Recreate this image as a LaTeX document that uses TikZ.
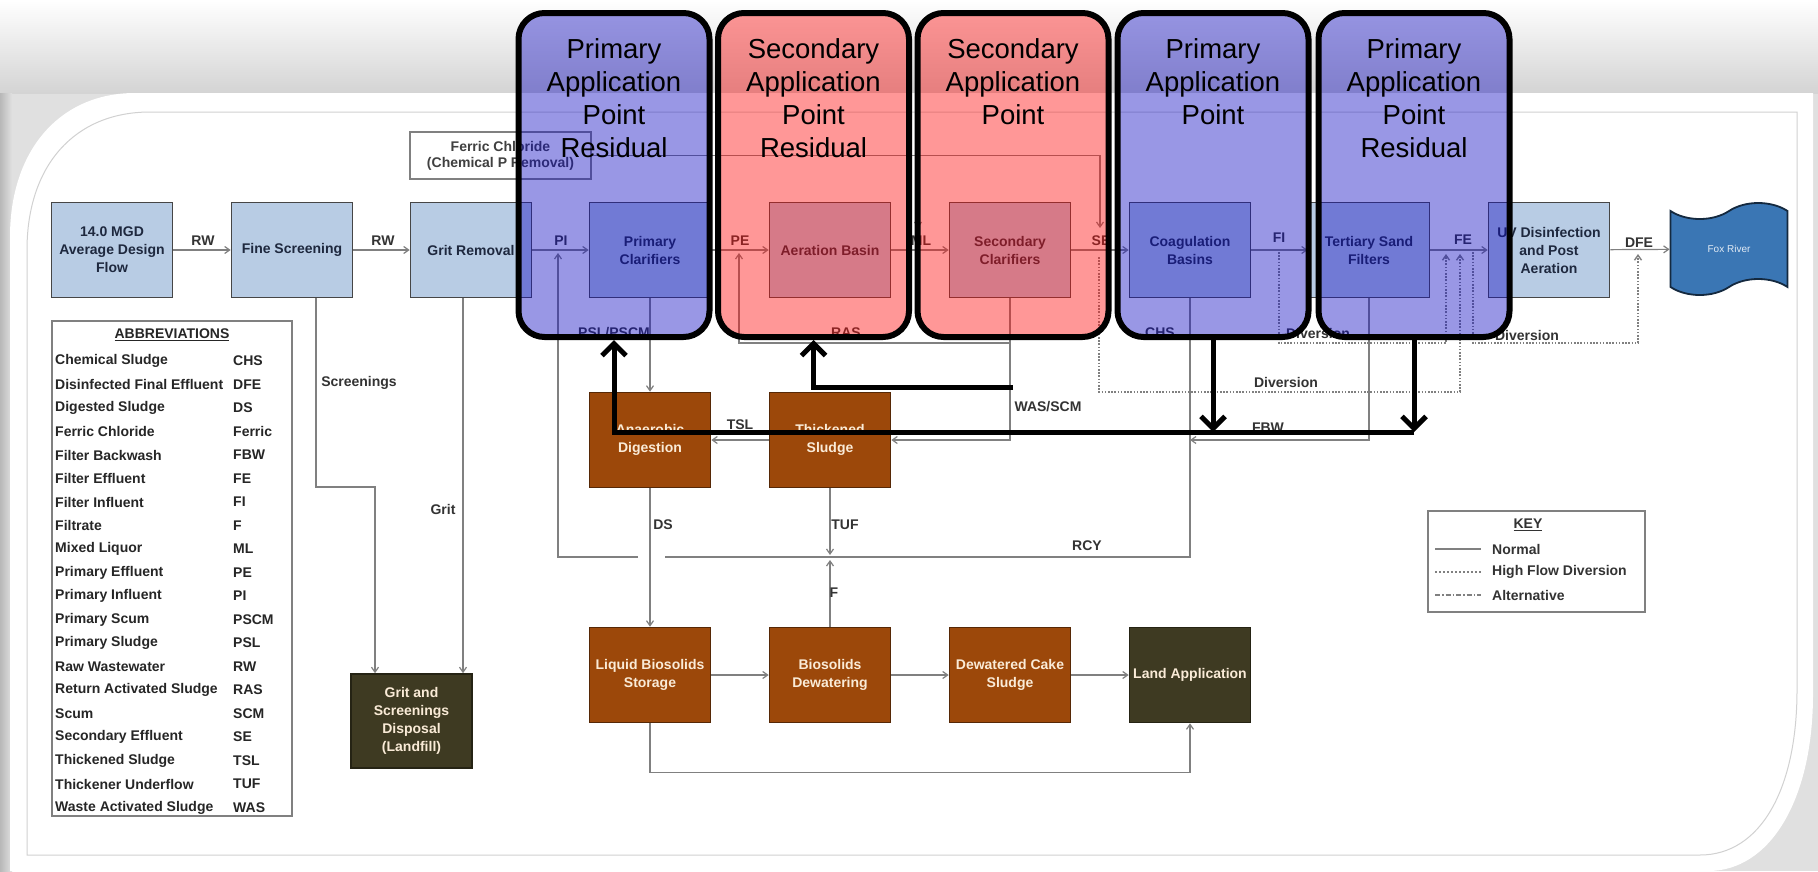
\documentclass[tikz,border=0pt]{standalone}
\usepackage{fontspec}
\setmainfont{Liberation Sans}
\usetikzlibrary{arrows.meta,shapes.symbols,positioning}

\definecolor{procblue}{RGB}{184,204,228}
\definecolor{procedge}{RGB}{70,70,70}
\definecolor{proctext}{RGB}{30,40,62}
\definecolor{sludge}{RGB}{156,72,10}
\definecolor{sludgetext}{RGB}{250,235,215}
\definecolor{landfill}{RGB}{62,58,34}
\definecolor{river}{RGB}{58,118,180}
\definecolor{pipegray}{RGB}{128,128,128}
\definecolor{zoneblue}{RGB}{20,15,195}
\definecolor{zonered}{RGB}{255,16,16}

\tikzset{
  unit/.style={rectangle, draw=procedge, line width=1.6pt, fill=procblue, text=proctext,
    minimum width=121pt, minimum height=95pt, inner sep=2pt, align=center,
    font=\fontsize{14}{18}\selectfont\bfseries},
  solids/.style={unit, fill=sludge, draw=sludge!55!black, text=sludgetext},
  disposal/.style={unit, fill=landfill, draw=landfill!60!black, text=sludgetext},
  pipeline/.style={draw=pipegray, line width=1.2pt},
  flow/.style={pipeline, -{Straight Barb[length=5pt,width=7pt]}},
  hiflow/.style={flow, dash pattern=on 1.6pt off 1.6pt, line width=1.4pt},
  flowlbl/.style={font=\fontsize{14}{16}\selectfont\bfseries, text=black!80, inner sep=1pt},
  abbr/.style={font=\fontsize{14}{16}\selectfont\bfseries, text=black!85, inner sep=0pt},
  frame/.style={draw=pipegray, line width=1.3pt},
  zone/.style={rectangle, rounded corners=26pt, draw=black, line width=6pt,
    fill opacity=0.43, minimum width=191pt, minimum height=324pt},
  zonetext/.style={align=center, font=\fontsize{27.5}{33}\selectfont, inner sep=0pt, anchor=north},
  feed/.style={line width=5pt, draw=black, -{Straight Barb[length=12pt,width=24pt]}},
}

\begin{document}
\begin{tikzpicture}[x=1pt,y=-1pt]
\useasboundingbox (0,0) rectangle (1818,871);
%%%%% START %%%%%
% page behind the card
\fill[black!12] (0,0) rectangle (1818,871);
\shade[top color=white, bottom color=black!17] (0,0) rectangle (1818,93);
\shade[left color=black!28, right color=black!12] (0,93) rectangle (12,871);
\fill[white] (10,237) .. controls (10,150) and (60,93) .. (135,93) -- (1813,93) -- (1813,694)
  .. controls (1813,800) and (1770,871) .. (1708,871) -- (10,871) -- cycle;
\draw[black!18, line width=1pt] (27,250) .. controls (27,165) and (75,112) .. (150,112) -- (1797,112)
  -- (1797,690) .. controls (1797,790) and (1760,855) .. (1700,855) -- (27,855) -- cycle;

% liquid train
\node[unit] (mgd) at (112,250) {14.0 MGD\\Average Design\\Flow};
\node[unit] (fine) at (292,250) {Fine Screening};
\node[unit] (grit) at (471,250) {Grit Removal};
\node[unit] (pclar) at (650,250) {Primary\\Clarifiers};
\node[unit] (aer) at (830,250) {Aeration Basin};
\node[unit] (sclar) at (1010,250) {Secondary\\Clarifiers};
\node[unit] (coag) at (1190,250) {Coagulation\\Basins};
\node[unit] (filt) at (1369,250) {Tertiary Sand\\Filters};
\node[unit] (uv) at (1549,250) {UV Disinfection\\and Post\\Aeration};
\node[tape, tape bend height=16pt, draw=river!35!black, line width=1.8pt, fill=river,
  minimum width=117pt, minimum height=92pt, text=white!85!river,
  font=\fontsize{10}{12}\selectfont] (fox) at (1729,249) {Fox River};
\node[frame, fill=white, minimum width=181pt, minimum height=47pt, align=center, text=black!75,
  font=\fontsize{14}{16}\selectfont\bfseries] (ferric) at (500.5,155.5) {Ferric Chloride\\(Chemical P Removal)};

% solids train
\node[solids] (anaer) at (650,440) {Anaerobic\\Digestion};
\node[solids] (thick) at (830,440) {Thickened\\Sludge};
\node[solids] (liquid) at (650,675) {Liquid Biosolids\\Storage};
\node[solids] (dewat) at (830,675) {Biosolids\\Dewatering};
\node[solids] (cake) at (1010,675) {Dewatered Cake\\Sludge};
\node[disposal] (land) at (1190,675) {Land Application};
\node[disposal, minimum height=94pt] (landfill) at (411.5,721) {Grit and\\Screenings\\Disposal\\(Landfill)};

\foreach \a/\b in {mgd/fine, fine/grit, grit/pclar, pclar/aer, aer/sclar, sclar/coag, coag/filt, filt/uv, uv/fox,
  pclar/anaer, thick/anaer, anaer/liquid, liquid/dewat, dewat/cake, cake/land}
  \draw[flow] (\a) -- (\b);

\coordinate (mlin) at (918,228);
\coordinate (sein) at (1100,228);
\draw[flow] (ferric.east) -| (sein);
\draw[flow] (ferric.east -| mlin) -- (mlin);

\coordinate (rasrow) at (0,343);
\coordinate (pein) at (739,253);
\coordinate (rcyE) at (665,557);
\coordinate (rcyW) at (638,557);
\coordinate (piin) at (558,253);
\coordinate (tufin) at (830,555);
\coordinate (fin) at (830,560);
\coordinate (fbwrow) at (0,440);
\draw[flow] (sclar.south) |- (thick.east);
\draw[flow] (sclar.south |- rasrow) -| (pein);
\draw[pipeline] (coag.south) |- (rcyE);
\draw[flow] (rcyW) -| (piin);
\draw[flow] (thick) -- (tufin);
\draw[flow] (dewat) -- (fin);
\draw[flow] (liquid.south) -- ++(0,49) -| (land.south);
\draw[flow] (filt.south) |- (coag.south |- fbwrow);

\coordinate (scrbend) at (316,487);
\coordinate (scrin) at (375,0);
\coordinate (gritx) at (463,0);
\draw[flow] (fine.south -| scrbend) -- (scrbend) -| (landfill.north -| scrin);
\draw[flow] (grit.south -| gritx) -- (landfill.north -| gritx);

% high flow diversions
\coordinate (dv1a) at (1279,252); \coordinate (dv1b) at (1446,343); \coordinate (dv1c) at (1446,254);
\coordinate (dv2a) at (1099,257); \coordinate (dv2b) at (1460,392); \coordinate (dv2c) at (1460,254);
\coordinate (dv3a) at (1473,252); \coordinate (dv3b) at (1638,343); \coordinate (dv3c) at (1638,254);
\foreach \d in {dv1,dv2,dv3}
  \draw[hiflow] (\d a) |- (\d b) -- (\d c);

\foreach \txt/\x/\y [count=\i] in {RW/203/241, RW/383/241, PI/561/241, PE/740/241, ML/921/241,
  SE/1101/241, FI/1279/238, FE/1463/240, DFE/1639/243, {PSL/PSCM}/614/333, RAS/846/333, CHS/1160/333,
  TSL/740/425, {WAS/SCM}/1048/407, DS/663/525, TUF/845/525, F/834/593, RCY/1087/546, FBW/1268/428,
  Screenings/359/383, Grit/443/509, Diversion/1318/333, Diversion/1286/382, Diversion/1527/335}
  \node[flowlbl] (lbl\i) at (\x,\y) {\txt};

% abbreviations
\node[frame, minimum width=240pt, minimum height=495pt] (abbrbox) at (172,568.5) {};
\node[abbr] (abbrt) at (172,335) {\underline{ABBREVIATIONS}};
\foreach \nm/\cd [count=\i] in {Chemical Sludge/CHS, Disinfected Final Effluent/DFE, Digested Sludge/DS,
  Ferric Chloride/Ferric, Filter Backwash/FBW, Filter Effluent/FE, Filter Influent/FI, Filtrate/F,
  Mixed Liquor/ML, Primary Effluent/PE, Primary Influent/PI, Primary Scum/PSCM, Primary Sludge/PSL,
  Raw Wastewater/RW, Return Activated Sludge/RAS, Scum/SCM, Secondary Effluent/SE,
  Thickened Sludge/TSL, Thickener Underflow/TUF, Waste Activated Sludge/WAS}
{
  \node[abbr, anchor=west] (an\i) at (55,{337.5+23.5*\i}) {\nm};
  \node[abbr, anchor=west] (ac\i) at (233,{337.5+23.5*\i}) {\cd};
}

% key
\node[frame, minimum width=217pt, minimum height=101pt] (key) at (1536.5,561.5) {};
\node[flowlbl] (keyt) at (1528,525) {\underline{KEY}};
\draw[pipeline] (1435,549) -- (1481,549);
\draw[pipeline, dash pattern=on 2pt off 2pt] (1435,572) -- (1481,572);
\draw[pipeline, dash pattern=on 5pt off 2pt on 1.5pt off 2pt] (1435,595) -- (1481,595);
\node[flowlbl, anchor=west] (keyn) at (1491,549) {Normal};
\node[flowlbl, anchor=west] (keyh) at (1491,572) {High Flow Diversion};
\node[flowlbl, anchor=west] (keya) at (1491,595) {Alternative};

% application points
\foreach \zn/\x/\col in {z1/614/zoneblue, z2/813.5/zonered, z3/1013/zonered, z4/1213/zoneblue, z5/1414/zoneblue}
  \node[zone, fill=\col] (\zn) at (\x,175) {};
\node[zonetext] (z1t) at ([yshift=-28pt]z1.north) {Primary\\Application\\Point\\Residual};
\node[zonetext] (z2t) at ([yshift=-28pt]z2.north) {Secondary\\Application\\Point\\Residual};
\node[zonetext] (z3t) at ([yshift=-28pt]z3.north) {Secondary\\Application\\Point};
\node[zonetext] (z4t) at ([yshift=-28pt]z4.north) {Primary\\Application\\Point};
\node[zonetext] (z5t) at ([yshift=-28pt]z5.north) {Primary\\Application\\Point\\Residual};

\coordinate (fbrow) at (0,432);
\coordinate (wasend) at (1013,387);
\draw[feed] (z4.south) -- (z4.south |- fbrow);
\draw[feed] (z5.south) -- (z5.south |- fbrow);
\draw[feed] (z5.south |- fbrow) -| (z1.south);
\draw[feed] (wasend) -| (z2.south);
%%%%% END %%%%%
\end{tikzpicture}
\end{document}
